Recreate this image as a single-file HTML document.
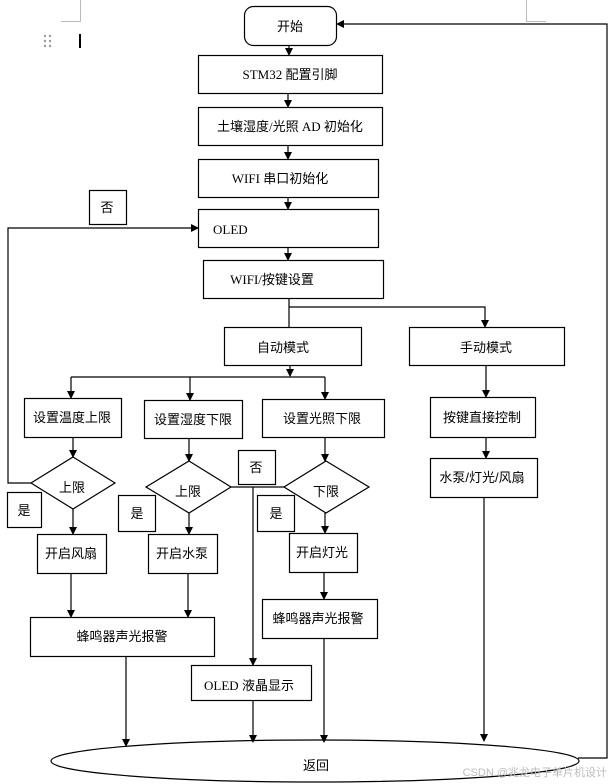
<!DOCTYPE html>
<html><head><meta charset="utf-8"><style>
html,body{margin:0;padding:0;background:#fff;}
svg{display:block;}
text{font-family:"Liberation Serif","Noto Sans CJK SC",serif;font-size:13px;fill:#000;}
.c{font-family:"Liberation Sans","Noto Sans CJK SC",sans-serif;}
</style></head><body>
<svg width="613" height="784" viewBox="0 0 613 784" xmlns="http://www.w3.org/2000/svg">
<defs><marker id="a" markerWidth="8" markerHeight="8" refX="7" refY="4" orient="auto" markerUnits="userSpaceOnUse"><path d="M0,0 L8,4 L0,8 z" fill="#000"/></marker></defs>
<g stroke="#bbb" stroke-width="1" fill="none">
<path d="M80.5,0 V21.5 H61"/><path d="M526.5,0 V21.5 H546"/>
</g>
<g fill="#999"><circle cx="45" cy="36" r="1.2"/><circle cx="50" cy="36" r="1.2"/><circle cx="45" cy="41" r="1.2"/><circle cx="50" cy="41" r="1.2"/><circle cx="45" cy="46" r="1.2"/><circle cx="50" cy="46" r="1.2"/></g>
<rect x="79" y="34" width="2" height="14" fill="#000"/>
<g stroke="#000" stroke-width="1.2" fill="#fff">
<rect x="244.5" y="6.5" width="92" height="39" rx="9"/>
<rect x="198.5" y="55.5" width="184" height="38"/>
<rect x="198.5" y="107.5" width="184" height="38"/>
<rect x="198.5" y="159.5" width="180" height="38"/>
<rect x="198.5" y="209.5" width="180" height="38"/>
<rect x="203.5" y="260.5" width="180" height="38"/>
<rect x="89.5" y="190.5" width="37" height="34"/>
<rect x="224.5" y="327.5" width="137" height="38"/>
<rect x="409.5" y="327.5" width="155" height="38"/>
<rect x="24.5" y="398.5" width="97" height="39"/>
<rect x="144.5" y="400.5" width="98" height="38"/>
<rect x="262.5" y="399.5" width="122" height="38"/>
<rect x="430.5" y="397.5" width="105" height="40"/>
<rect x="430.5" y="458.5" width="107" height="39"/>
<path d="M73,457 L115,483 L73,509 L31,483 Z"/>
<path d="M189,461 L231,487 L189,513 L146,487 Z"/>
<path d="M326,461 L369,487 L326,513 L284,487 Z"/>
<rect x="7.5" y="492.5" width="34" height="35"/>
<rect x="118.5" y="495.5" width="37" height="36"/>
<rect x="257.5" y="495.5" width="37" height="36"/>
<rect x="238.5" y="450.5" width="37" height="34"/>
<rect x="37.5" y="534.5" width="69" height="39"/>
<rect x="148.5" y="534.5" width="69" height="39"/>
<rect x="289.5" y="533.5" width="68" height="39"/>
<rect x="30.5" y="617.5" width="184" height="39"/>
<rect x="262.5" y="599.5" width="115" height="39"/>
<rect x="191.5" y="665.5" width="120" height="35"/>
<ellipse cx="315" cy="761" rx="264" ry="21"/>
</g>
<g stroke="#000" stroke-width="1.2" fill="none" marker-end="url(#a)">
<path d="M289,46 V55"/><path d="M288,94 V107"/><path d="M288,146 V159"/><path d="M288,198 V209"/><path d="M288,248 V260"/>
<path d="M289,299 V327" marker-end="none"/>
<path d="M289,307 H485 V327"/>
<path d="M290,366 V376"/>
<path d="M71,377 H325" marker-end="none"/>
<path d="M71,377 V398"/><path d="M190,377 V400"/><path d="M325,377 V399"/>
<path d="M73,438 V457"/><path d="M189,439 V461"/><path d="M325,438 V461"/>
<path d="M486,366 V397"/><path d="M486,438 V458"/>
<path d="M31,483 H8 V228 H198"/>
<path d="M73,509 V534"/><path d="M189,513 V534"/><path d="M325,513 V533"/>
<path d="M231,487 H284" marker-end="none"/>
<path d="M253,487 V665"/>
<path d="M71,574 V617"/><path d="M188,574 V617"/><path d="M324,573 V599"/>
<path d="M126,657 V746"/><path d="M253,701 V742"/><path d="M324,639 V742"/><path d="M484,498 V741"/>
<path d="M578,758 H607 V24 H337"/>
</g>
<text x="290" y="31" text-anchor="middle" class="c">开始</text>
<text x="290" y="79" text-anchor="middle">STM32 配置引脚</text>
<text x="290" y="131" text-anchor="middle">土壤湿度/光照 AD 初始化</text>
<text x="280" y="183" text-anchor="middle">WIFI 串口初始化</text>
<text x="213" y="234">OLED</text>
<text x="272" y="284" text-anchor="middle">WIFI/按键设置</text>
<text x="107" y="212" text-anchor="middle" class="c">否</text>
<text x="283" y="352" text-anchor="middle" class="c">自动模式</text>
<text x="486" y="352" text-anchor="middle" class="c">手动模式</text>
<text x="72" y="422" text-anchor="middle" class="c">设置温度上限</text>
<text x="193" y="424" text-anchor="middle" class="c">设置湿度下限</text>
<text x="322" y="423" text-anchor="middle" class="c">设置光照下限</text>
<text x="482" y="422" text-anchor="middle" class="c">按键直接控制</text>
<text x="482" y="482" text-anchor="middle" class="c">水泵/灯光/风扇</text>
<text x="72" y="492" text-anchor="middle" class="c">上限</text>
<text x="188" y="496" text-anchor="middle" class="c">上限</text>
<text x="326" y="496" text-anchor="middle" class="c">下限</text>
<text x="24" y="515" text-anchor="middle" class="c">是</text>
<text x="137" y="518" text-anchor="middle" class="c">是</text>
<text x="276" y="518" text-anchor="middle" class="c">是</text>
<text x="256" y="472" text-anchor="middle" class="c">否</text>
<text x="71" y="558" text-anchor="middle" class="c">开启风扇</text>
<text x="182" y="558" text-anchor="middle" class="c">开启水泵</text>
<text x="322" y="557" text-anchor="middle" class="c">开启灯光</text>
<text x="122" y="641" text-anchor="middle" class="c">蜂鸣器声光报警</text>
<text x="318" y="623" text-anchor="middle" class="c">蜂鸣器声光报警</text>
<text x="249" y="690" text-anchor="middle">OLED 液晶显示</text>
<text x="316" y="770" text-anchor="middle" class="c">返回</text>
<text x="607" y="776" text-anchor="end" class="c" style="font-size:11px;fill:#bbb">CSDN @兆龙电子单片机设计</text>
</svg>
</body></html>
